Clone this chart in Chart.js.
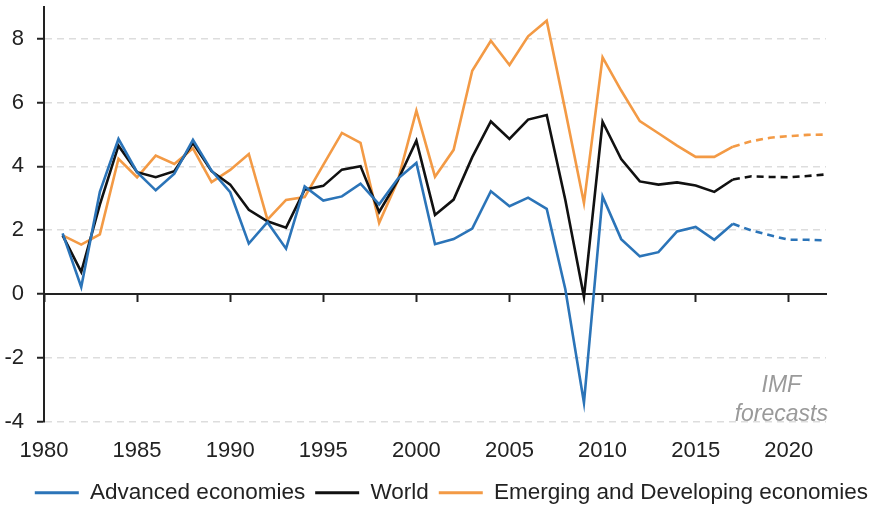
<!DOCTYPE html>
<html>
<head>
<meta charset="utf-8">
<script src="https://cdn.jsdelivr.net/npm/chart.js@4"></script>
<style>
  html, body { margin: 0; padding: 0; background: #fff; }
  #wrap { width: 878px; height: 506px; }
</style>
</head>
<body>
<div id="wrap"><canvas id="growthChart"></canvas></div>
<script>
// Years on the x axis (IMF forecasts from 2017 on)
const years = [];
for (let y = 1981; y <= 2022; y++) years.push(y);
const forecastStart = 2017;

const advanced = [1.9, 0.22, 3.2, 4.86, 3.82, 3.25, 3.77, 4.83, 3.87, 3.19,
  1.58, 2.25, 1.42, 3.37, 2.93, 3.06, 3.46, 2.81, 3.61, 4.11,
  1.56, 1.72, 2.05, 3.22, 2.75, 3.02, 2.67, 0.15, -3.41, 3.06,
  1.72, 1.18, 1.31, 1.96, 2.10, 1.70, 2.20, 1.99, 1.84, 1.70, 1.70, 1.68];
const world = [1.84, 0.69, 2.8, 4.65, 3.82, 3.66, 3.85, 4.73, 3.85, 3.43,
  2.64, 2.28, 2.08, 3.27, 3.39, 3.90, 4.01, 2.57, 3.56, 4.81,
  2.48, 2.96, 4.29, 5.41, 4.86, 5.47, 5.61, 2.95, -0.09, 5.4,
  4.23, 3.53, 3.43, 3.50, 3.40, 3.20, 3.59, 3.69, 3.67, 3.66, 3.70, 3.75];
const emerging = [1.84, 1.55, 1.87, 4.24, 3.66, 4.34, 4.08, 4.57, 3.51, 3.89,
  4.39, 2.33, 2.95, 3.04, 4.05, 5.05, 4.74, 2.23, 3.55, 5.75,
  3.68, 4.52, 7.0, 7.94, 7.18, 8.08, 8.57, 5.75, 2.85, 7.42,
  6.38, 5.42, 5.04, 4.65, 4.30, 4.30, 4.62, 4.79, 4.90, 4.95, 4.99, 5.0];

const seriesNames = ['Advanced economies', 'World', 'Emerging and Developing economies'];
const seriesColors = ['#2b74b8', '#111111', '#f39a45'];

// Axis ticks
const xTicks = [1980, 1985, 1990, 1995, 2000, 2005, 2010, 2015, 2020];
const yTicks = [-4, -2, 0, 2, 4, 6, 8];
const xMin = 1980, xMax = 2022, yMin = -4, yMax = 9;

const FONT = 'Liberation Sans, Arial, Helvetica, sans-serif';

function makeDataset(label, data, color) {
  return {
    label: label,
    data: data,
    xAxisID: 'x',
    yAxisID: 'y',
    borderColor: color,
    backgroundColor: color,
    borderWidth: 2.6,
    pointRadius: 0,
    tension: 0,
    // forecast years are dashed
    segment: {
      borderDash: ctx => ctx.p0.parsed.x >= forecastStart ? [7, 5] : undefined
    }
  };
}

// Grey "IMF forecasts" note in the lower right corner
const forecastNote = {
  id: 'forecastNote',
  afterDatasetsDraw(chart) {
    const ctx = chart.ctx;
    const x = chart.scales.x.getPixelForValue(2019.6);
    const y = chart.scales.y.getPixelForValue(-4);
    ctx.save();
    ctx.font = 'italic 23px ' + FONT;
    ctx.fillStyle = '#9a9a9a';
    ctx.textAlign = 'center';
    ctx.textBaseline = 'alphabetic';
    ctx.fillText('IMF', x, y - 30);
    ctx.fillText('forecasts', x, y - 1);
    ctx.restore();
  }
};

const setTicks = list => scale => { scale.ticks = list.map(v => ({ value: v })); };

new Chart(document.getElementById('growthChart'), {
  type: 'line',
  data: {
    labels: years,
    datasets: [
      makeDataset(seriesNames[0], advanced, seriesColors[0]),
      makeDataset(seriesNames[1], world, seriesColors[1]),
      makeDataset(seriesNames[2], emerging, seriesColors[2])
    ]
  },
  options: {
    responsive: true,
    maintainAspectRatio: false,
    animation: false,
    // negative bottom padding lets the legend sit lower, as in the original
    layout: { padding: { left: 0, right: 0, top: 7, bottom: -8 } },
    plugins: {
      tooltip: { enabled: false },
      legend: {
        position: 'bottom',
        align: 'end',
        labels: {
          font: { family: FONT, size: 22.5 },
          color: '#222',
          boxWidth: 44,
          boxHeight: 3,
          padding: 10,
          generateLabels: chart => Chart.defaults.plugins.legend.labels.generateLabels(chart)
            .map(item => Object.assign(item, { lineWidth: 0, fillStyle: item.strokeStyle, lineDash: [] }))
        }
      }
    },
    scales: {
      // axis line through zero with the year tick marks
      x: {
        type: 'linear',
        position: { y: 0 },
        min: xMin,
        max: xMax,
        afterBuildTicks: setTicks(xTicks),
        ticks: { display: false },
        grid: { drawOnChartArea: false, drawTicks: true, tickLength: 7, tickColor: '#222', tickWidth: 2 },
        border: { display: true, color: '#222', width: 2 }
      },
      // year labels at the bottom
      x2: {
        type: 'linear',
        position: 'bottom',
        min: xMin,
        max: xMax,
        afterBuildTicks: setTicks(xTicks),
        afterFit: scale => { scale.height = 50; },
        ticks: { font: { family: FONT, size: 22 }, color: '#222', padding: 16, maxRotation: 0, callback: v => String(v) },
        grid: { display: false, drawTicks: false },
        border: { display: false }
      },
      y: {
        min: yMin,
        max: yMax,
        afterBuildTicks: setTicks(yTicks.concat([yMax])),
        afterFit: scale => { scale.width = 44; scale.paddingTop = 0; scale.paddingBottom = 0; },
        ticks: {
          font: { family: FONT, size: 22 },
          color: '#222',
          padding: 13,
          callback: v => yTicks.includes(v) ? String(v) : null
        },
        grid: {
          color: ctx => ctx.tick && ctx.tick.value === 0 ? 'rgba(0,0,0,0)' : '#dddddd',
          lineWidth: 1.5,
          tickColor: '#222',
          tickWidth: 2,
          tickLength: 7
        },
        border: { display: true, color: '#222', width: 2, dash: [7, 5] }
      },
      // empty strip on the right, keeps the plot narrower than the legend
      yRight: {
        position: 'right',
        min: 0,
        max: 1,
        afterFit: scale => { scale.width = 52; scale.paddingTop = 0; scale.paddingBottom = 0; },
        ticks: { display: false },
        grid: { display: false, drawTicks: false },
        border: { display: false }
      }
    }
  },
  plugins: [forecastNote]
});
</script>
</body>
</html>
